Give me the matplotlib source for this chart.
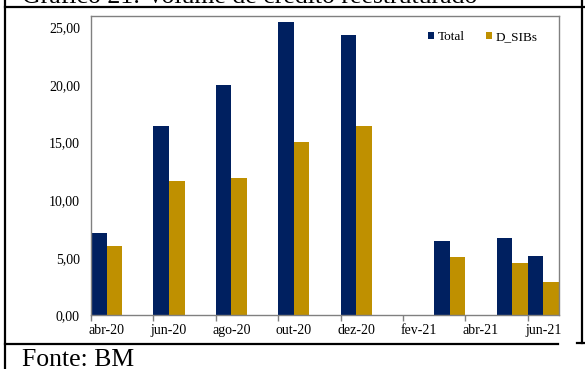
import numpy as np
import matplotlib
matplotlib.use("Agg")
from matplotlib import pyplot as plt
from matplotlib.lines import Line2D
from matplotlib.patches import Patch

plt.rcParams['font.family'] = ['Liberation Serif', 'DejaVu Serif']

# monthly categories, abr-20 .. jun-21
months = ['abr-20', 'mai-20', 'jun-20', 'jul-20', 'ago-20', 'set-20', 'out-20',
          'nov-20', 'dez-20', 'jan-21', 'fev-21', 'mar-21', 'abr-21', 'mai-21', 'jun-21']
nan = np.nan
total = [7.14, nan, 16.40, nan, 20.00, nan, 25.46, nan, 24.30, nan, nan, 6.48, nan, 6.68, 5.15]
dsibs = [6.04, nan, 11.66, nan, 11.92, nan, 15.07, nan, 16.40, nan, nan, 5.06, nan, 4.51, 2.86]

navy = '#002060'
gold = '#BF9000'
grey = '#808080'

fig = plt.figure(figsize=(5.85, 3.69), dpi=100)
ax = fig.add_axes([0.1556, 0.1455, 0.8000, 0.8120])

x = np.arange(len(months))
ax.bar(x, total, width=0.5, align='edge', color=navy, linewidth=0)
ax.bar(x + 0.5, dsibs, width=0.5, align='edge', color=gold, linewidth=0)

ax.set_xlim(0, len(months))
ax.set_ylim(0, 26)

# tick marks on the boundaries, labels centred on every other month
ax.set_xticks(np.arange(0, len(months), 2))
ax.set_xticklabels([])
ax.set_xticks(x[::2] + 0.5, minor=True)
ax.set_xticklabels(months[::2], minor=True, fontsize=10)
ax.tick_params(axis='x', which='major', length=4, width=1, color=grey, direction='out')
ax.tick_params(axis='x', which='minor', length=0, pad=6)

yt = np.arange(0, 26, 5)
ax.set_yticks(yt)
ax.set_yticklabels([f'{v:.2f}'.replace('.', ',') for v in yt], fontsize=10)
ax.tick_params(axis='y', length=0, pad=8)

for s in ax.spines.values():
    s.set_color(grey)
    s.set_linewidth(1)

handles = [Patch(facecolor=navy, label='Total'), Patch(facecolor=gold, label='D_SIBs')]
fig.legend(handles=handles, ncol=2, frameon=False, fontsize=9.5,
           loc='center right', bbox_to_anchor=(0.919, 0.900),
           handlelength=0.45, handleheight=0.45, handletextpad=0.3,
           columnspacing=1.6, borderaxespad=0, borderpad=0)

# box around the chart
W, H = 585.0, 369.0
def fx(px):
    return px / W
def fy(py):
    return 1 - py / H

lines = [
    ([fx(5), fx(5)], [fy(0), fy(369)]),
    ([fx(5), fx(585)], [fy(7), fy(7)]),
    ([fx(582), fx(582)], [fy(0), fy(343)]),
    ([fx(5), fx(558)], [fy(344), fy(344)]),
    ([fx(577), fx(585)], [fy(343), fy(343)]),
]
for xs, ys in lines:
    fig.add_artist(Line2D(xs, ys, color='black', linewidth=1.6, transform=fig.transFigure))

fig.text(fx(22), fy(3), 'Gráfico 21: Volume de crédito reestruturado',
         fontsize=18.5, va='baseline', ha='left')
fig.text(fx(22), fy(365.5), 'Fonte: BM', fontsize=18.5, va='baseline', ha='left')

fig.savefig('out.png', dpi=100)
